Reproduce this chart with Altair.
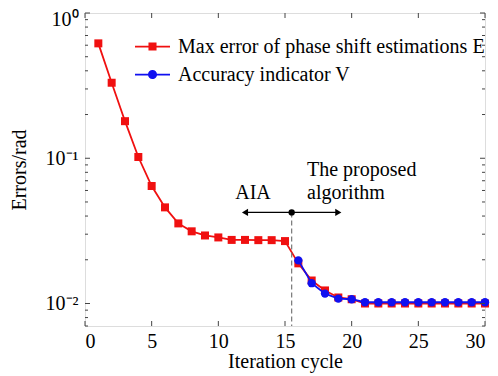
import altair as alt
import pandas as pd

iters = list(range(1, 31))
err_E = [0.618, 0.331, 0.180, 0.102, 0.0644, 0.0459, 0.0356, 0.0314, 0.0294, 0.0285,
         0.0274, 0.0274, 0.0273, 0.0273, 0.0269, 0.0189, 0.0144, 0.0123, 0.0110, 0.0107,
         0.0100, 0.0100, 0.0100, 0.0100, 0.0100, 0.0100, 0.0100, 0.0100, 0.0100, 0.0100]
iters_V = list(range(16, 31))
acc_V = [0.0198, 0.0138, 0.0117, 0.0108, 0.0107, 0.0102, 0.0102, 0.0102, 0.0102, 0.0102,
         0.0102, 0.0102, 0.0102, 0.0102, 0.0102]

name_E = "Max error of phase shift estimations E"
name_V = "Accuracy indicator V"
RED, BLUE = "#f01010", "#1010f0"

x_ticks = [0, 5, 10, 15, 20, 25, 30]
y_major = [0.01, 0.1, 1.0]
y_minor = [0.007, 0.008, 0.009, 0.02, 0.03, 0.04, 0.05, 0.06, 0.07, 0.08, 0.09,
           0.2, 0.3, 0.4, 0.5, 0.6, 0.7, 0.8, 0.9]
y_domain = [0.007, 1]

# annotation data
split_x = [15.5]
arrow_y = [0.0424]
arrow_ends = [12.0, 19.0]
aia_text, aia_x, aia_y = ["AIA"], [12.6], [0.0574]
prop_text = ["The proposed", "algorithm"]
prop_x = [16.65, 16.65]
prop_y = [0.0826, 0.0574]

W, H = 400, 313
FONT = "Liberation Serif, Times New Roman, serif"
FS = 20
TICK = "#444"

dfE = pd.DataFrame({"x": iters, "y": err_E, "s": name_E})
dfV = pd.DataFrame({"x": iters_V, "y": acc_V, "s": name_V})
dfAll = pd.concat([dfE, dfV])

xs = alt.Scale(domain=[0, 30], nice=False)
ys = alt.Scale(type="log", domain=y_domain, nice=False)
cs = alt.Scale(domain=[name_E, name_V], range=[RED, BLUE])

# legend symbols: thin bar (line sample) + marker, all filled
sq_path = "M-1,-0.05H1V0.05H-1ZM-0.23,-0.23H0.23V0.23H-0.23Z"
ci_path = "M-1,-0.05H1V0.05H-1ZM0.26,0A0.26,0.26,0,1,1,-0.26,0A0.26,0.26,0,1,1,0.26,0Z"
shs = alt.Scale(domain=[name_E, name_V], range=[sq_path, ci_path])

legend = alt.Legend(
    title=None, orient="none", legendX=50, legendY=16,
    labelFont=FONT, labelFontSize=FS, labelColor="black", labelLimit=400,
    rowPadding=-9, labelOffset=8, symbolSize=1225, symbolStrokeWidth=0,
    symbolOpacity=1,
)

label_expr = ("datum.value == 1 ? '10⁰' : (datum.value == 0.1 ? '10⁻¹' : "
              "(datum.value == 0.01 ? '10⁻²' : ''))")

ax_x_main = alt.Axis(orient="bottom", values=x_ticks, ticks=False, domain=False, grid=False,
                     labelFont=FONT, labelFontSize=FS, labelColor="black", labelPadding=5,
                     title="Iteration cycle", titleFont=FONT, titleFontSize=FS,
                     titleFontWeight="normal", titleColor="black", titlePadding=0)
ax_y_main = alt.Axis(orient="left", ticks=False, domain=False, grid=False,
                     values=y_major, labelExpr=label_expr,
                     labelOffset={"condition": {"test": "datum.value == 1", "value": 6}, "value": 0},
                     labelFont=FONT, labelFontSize=FS, labelColor="black", labelPadding=7,
                     title="Errors/rad", titleFont=FONT, titleFontSize=FS,
                     titleFontWeight="normal", titleColor="black", titlePadding=16)

lineE = alt.Chart(dfE).mark_line(strokeWidth=1.8, color=RED).encode(
    x=alt.X("x:Q", scale=xs, axis=ax_x_main),
    y=alt.Y("y:Q", scale=ys, axis=ax_y_main),
)
ptsE = alt.Chart(dfE).mark_point(shape="square", filled=True, size=64, opacity=1, color=RED).encode(
    x=alt.X("x:Q", scale=xs),
    y=alt.Y("y:Q", scale=ys),
)
lineV = alt.Chart(dfV).mark_line(strokeWidth=1.8, color=BLUE).encode(
    x=alt.X("x:Q", scale=xs),
    y=alt.Y("y:Q", scale=ys),
)
ptsV = alt.Chart(dfV).mark_point(shape="circle", filled=True, size=70, opacity=1, color=BLUE).encode(
    x=alt.X("x:Q", scale=xs),
    y=alt.Y("y:Q", scale=ys),
)
legend_layer = alt.Chart(dfAll).transform_filter("false").mark_point(filled=True, opacity=1).encode(
    x=alt.X("x:Q", scale=xs),
    y=alt.Y("y:Q", scale=ys),
    color=alt.Color("s:N", scale=cs, legend=legend),
    shape=alt.Shape("s:N", scale=shs, legend=legend),
)

# inward ticks on all four sides
dfXT = pd.DataFrame({"x": x_ticks})
xt_bottom = alt.Chart(dfXT).mark_rule(color=TICK, strokeWidth=1).encode(
    x=alt.X("x:Q", scale=xs), y=alt.value(H), y2=alt.value(H - 5))
xt_top = alt.Chart(dfXT).mark_rule(color=TICK, strokeWidth=1).encode(
    x=alt.X("x:Q", scale=xs), y=alt.value(0), y2=alt.value(5))
dfYM = pd.DataFrame({"y": y_major})
dfYm = pd.DataFrame({"y": y_minor})
yt = []
for df_, L in ((dfYM, 5), (dfYm, 3)):
    yt.append(alt.Chart(df_).mark_rule(color=TICK, strokeWidth=1).encode(
        y=alt.Y("y:Q", scale=ys), x=alt.value(0), x2=alt.value(L)))
    yt.append(alt.Chart(df_).mark_rule(color=TICK, strokeWidth=1).encode(
        y=alt.Y("y:Q", scale=ys), x=alt.value(W), x2=alt.value(W - L)))

dfSplit = pd.DataFrame({"x": split_x, "y": arrow_y, "y2": [y_domain[0]]})
dashed = alt.Chart(dfSplit).mark_rule(color="#777", strokeDash=[5, 3], strokeWidth=1.2).encode(
    x=alt.X("x:Q", scale=xs), y=alt.Y("y:Q", scale=ys), y2="y2:Q")

dfArrow = pd.DataFrame({"x": [arrow_ends[0]], "x2": [arrow_ends[1]], "y": arrow_y})
arrow_line = alt.Chart(dfArrow).mark_rule(color="black", strokeWidth=1.2).encode(
    x=alt.X("x:Q", scale=xs), x2="x2:Q", y=alt.Y("y:Q", scale=ys))

head_l = alt.Chart(pd.DataFrame({"x": [arrow_ends[0]], "y": arrow_y})).mark_point(
    filled=True, size=50, color="black", opacity=1, shape="triangle-left").encode(
    x=alt.X("x:Q", scale=xs), y=alt.Y("y:Q", scale=ys))
head_r = alt.Chart(pd.DataFrame({"x": [arrow_ends[1]], "y": arrow_y})).mark_point(
    filled=True, size=50, color="black", opacity=1, shape="triangle-right").encode(
    x=alt.X("x:Q", scale=xs), y=alt.Y("y:Q", scale=ys))

dot = alt.Chart(dfSplit).mark_point(filled=True, size=40, color="black", opacity=1, shape="circle").encode(
    x=alt.X("x:Q", scale=xs), y=alt.Y("y:Q", scale=ys))

txt_aia = alt.Chart(pd.DataFrame({"x": aia_x, "y": aia_y, "t": aia_text})).mark_text(
    font=FONT, fontSize=FS, color="black", align="center", baseline="middle").encode(
    x=alt.X("x:Q", scale=xs), y=alt.Y("y:Q", scale=ys), text="t:N")
txt_prop = alt.Chart(pd.DataFrame({"x": prop_x, "y": prop_y, "t": prop_text})).mark_text(
    font=FONT, fontSize=FS, color="black", align="left", baseline="middle").encode(
    x=alt.X("x:Q", scale=xs), y=alt.Y("y:Q", scale=ys), text="t:N")

chart = alt.layer(lineE, ptsE, lineV, ptsV, legend_layer, xt_bottom, xt_top, *yt,
                  dashed, arrow_line, head_l, head_r, dot, txt_aia, txt_prop).properties(
    width=W, height=H,
    autosize=alt.AutoSizeParams(type="none"),
    padding={"left": 77, "top": 5, "right": 5, "bottom": 47},
).configure_view(stroke="#333", strokeWidth=1).configure(background="white")

chart.save("out.html", embed_options={"renderer": "svg", "actions": False})
